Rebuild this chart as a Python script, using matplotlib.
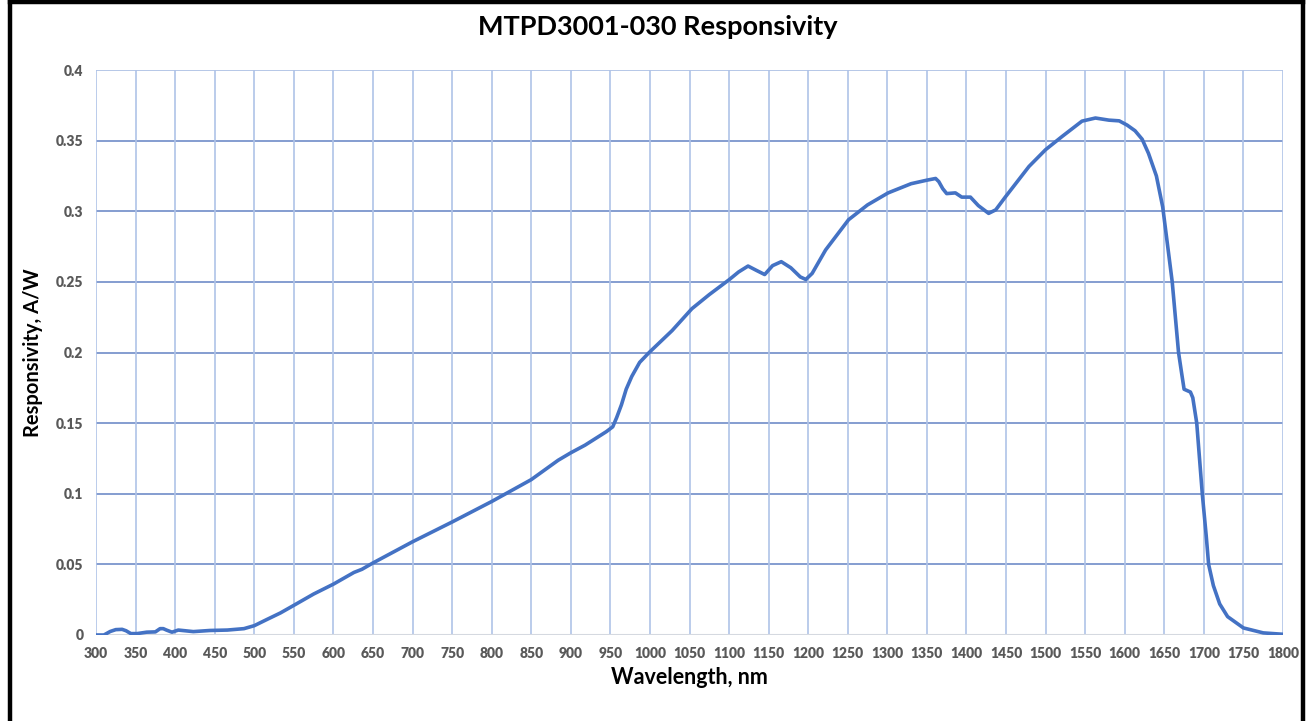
import numpy as np
import matplotlib
matplotlib.use('Agg')
import matplotlib.pyplot as plt
from matplotlib.lines import Line2D

# wavelength (nm) and responsivity (A/W)
wavelength = [300, 310, 318, 325, 333, 338, 344, 352, 364, 375, 381, 385, 389, 396, 404,
              423, 444, 466, 487, 500, 516, 533, 550, 575, 600, 626, 636, 650, 700, 750,
              800, 850, 884, 900, 918, 945, 953, 958, 964, 970, 977, 987, 999, 1028, 1053,
              1075, 1100, 1112, 1124, 1135, 1145, 1155, 1166, 1178, 1190, 1197, 1205, 1222,
              1251, 1275, 1301, 1330, 1350, 1361, 1365, 1370, 1375, 1386, 1394, 1405, 1415,
              1428, 1437, 1449, 1479, 1500, 1521, 1546, 1563, 1580, 1593, 1603, 1613, 1622,
              1630, 1640, 1648, 1660, 1668, 1672, 1675, 1683, 1686, 1691, 1698, 1703, 1706,
              1712, 1720, 1730, 1750, 1775, 1800]
responsivity = [0, 0, 0.0025, 0.0038, 0.004, 0.003, 0.001, 0.001, 0.002, 0.0022, 0.0045,
                0.0045, 0.0035, 0.002, 0.0035, 0.0024, 0.0032, 0.0035, 0.0045, 0.0066,
                0.011, 0.0156, 0.021, 0.029, 0.036, 0.0443, 0.0465, 0.051, 0.066, 0.080,
                0.0945, 0.110, 0.1237, 0.129, 0.1344, 0.144, 0.1474, 0.154, 0.163, 0.174,
                0.183, 0.193, 0.200, 0.2155, 0.231, 0.241, 0.2515, 0.257, 0.2612, 0.258,
                0.2552, 0.2615, 0.2643, 0.260, 0.2535, 0.2517, 0.256, 0.2726, 0.294, 0.3045,
                0.313, 0.3195, 0.322, 0.3232, 0.321, 0.316, 0.3125, 0.313, 0.310, 0.310,
                0.304, 0.2985, 0.301, 0.310, 0.3317, 0.3436, 0.353, 0.3638, 0.366, 0.3645,
                0.364, 0.361, 0.357, 0.351, 0.341, 0.325, 0.303, 0.250, 0.200, 0.185, 0.174,
                0.172, 0.168, 0.150, 0.100, 0.070, 0.050, 0.035, 0.022, 0.013, 0.005,
                0.0015, 0.0005]

x_ticks = np.arange(300, 1801, 50)
y_ticks = [0, 0.05, 0.1, 0.15, 0.2, 0.25, 0.3, 0.35, 0.4]
y_tick_labels = ['0', '0.05', '0.1', '0.15', '0.2', '0.25', '0.3', '0.35', '0.4']

plt.rcParams['font.family'] = ['Lato', 'DejaVu Sans']

fig = plt.figure(figsize=(13.14, 7.21), dpi=100)
ax = fig.add_axes([96 / 1314, 1 - 635 / 721, (1283 - 96) / 1314, (635 - 70) / 721])

ax.plot(wavelength, responsivity, color='#4472C4', lw=2.6, solid_joinstyle='round',
        solid_capstyle='round', zorder=3)

ax.set_xlim(300, 1800)
ax.set_ylim(0, 0.4)
ax.set_xticks(x_ticks)
ax.set_xticklabels([str(t) for t in x_ticks], fontweight='heavy')
ax.set_yticks(y_ticks)
ax.set_yticklabels(y_tick_labels, fontweight='heavy')

# grid: horizontal darker, vertical lighter
for yv in y_ticks[1:-1]:
    ax.axhline(yv, color='#6F8CC8', lw=1.2, zorder=1)
ax.axhline(0.4, color='#A9BDE3', lw=1.2, zorder=1)
for xv in x_ticks:
    ax.axvline(xv, color='#AFC3E7', lw=1.2, zorder=1)
ax.axhline(0, color='#D5D9E0', lw=1.5, zorder=2)

for s in ax.spines.values():
    s.set_visible(False)
ax.tick_params(length=0, labelsize=10, labelcolor='#595959', pad=9)

ax.set_xlabel('Wavelength, nm', fontsize=15.5, fontweight='bold', color='black', labelpad=5)
ax.set_ylabel('Responsivity, A/W', fontsize=14.5, fontweight='bold', color='black', labelpad=9)
fig.text(658 / 1314, 1 - 27 / 721, 'MTPD3001-030 Responsivity', ha='center', va='center',
         fontsize=19.5, fontweight='bold', color='black')

# black frame around the chart
fig.add_artist(Line2D([10 / 1314, 10 / 1314], [0, 1], transform=fig.transFigure, color='black', lw=3.2))
fig.add_artist(Line2D([1303 / 1314, 1303 / 1314], [0, 1], transform=fig.transFigure, color='black', lw=3.2))
fig.add_artist(Line2D([10 / 1314, 1303 / 1314], [1 - 1.5 / 721, 1 - 1.5 / 721], transform=fig.transFigure, color='black', lw=3.2))

fig.savefig('out.png', dpi=100)
